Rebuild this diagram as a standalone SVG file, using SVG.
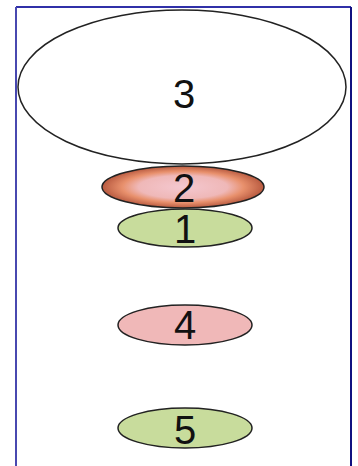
<svg xmlns="http://www.w3.org/2000/svg" width="358" height="466" viewBox="0 0 358 466">
<style>
.n{stroke:#222;stroke-width:1.5}
.t{font-family:"Liberation Sans",Arial,sans-serif;font-size:40px;fill:#111;text-anchor:middle}
</style>
<defs>
<radialGradient id="g2" cx="50%" cy="50%" r="50%">
<stop offset="0" stop-color="#f4c8d0"/>
<stop offset="0.55" stop-color="#efb8b8"/>
<stop offset="0.75" stop-color="#e8906c"/>
<stop offset="1" stop-color="#b85a40"/>
</radialGradient>
</defs>
<rect width="358" height="466" fill="#fff"/>
<g id="frame" fill="none">
<line x1="16" y1="7" x2="351" y2="7" stroke="#3030a8" stroke-width="2"/>
<line x1="16" y1="7" x2="16" y2="466" stroke="#4848b0" stroke-width="2"/>
<line x1="351" y1="7" x2="351" y2="466" stroke="#101080" stroke-width="2"/>
</g>
<g id="connectors"></g>
<g id="node3"><ellipse class="n" cx="182" cy="87" rx="164" ry="77" fill="#fff"/><text class="t" x="184" y="108">3</text></g>
<g id="node2"><ellipse class="n" cx="183" cy="187" rx="81" ry="21" fill="url(#g2)"/><text class="t" x="184" y="202">2</text></g>
<g id="node1"><ellipse class="n" cx="185" cy="228" rx="67" ry="19" fill="#c8dc9c"/><text class="t" x="185" y="243">1</text></g>
<g id="node4"><ellipse class="n" cx="185" cy="325" rx="67" ry="20" fill="#f0b8b8"/><text class="t" x="185" y="339">4</text></g>
<g id="node5"><ellipse class="n" cx="185" cy="428" rx="67" ry="20" fill="#c8dc9c"/><text class="t" x="185" y="444">5</text></g>
</svg>
